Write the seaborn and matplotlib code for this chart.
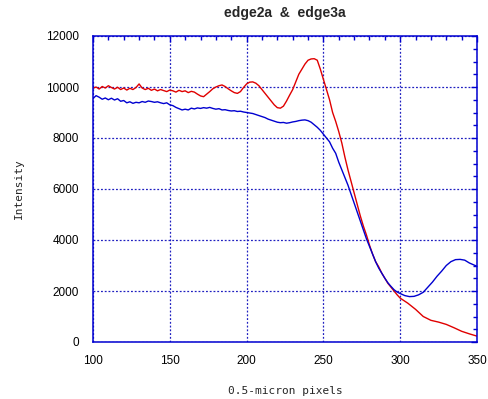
import matplotlib
matplotlib.use("Agg")
import matplotlib.pyplot as plt
from matplotlib.ticker import MultipleLocator
import seaborn as sns
import pandas as pd

# edge2a (red)
x_edge2a = [100, 102, 104, 106, 108, 110, 112, 114, 116, 118, 120, 122, 124, 126, 128,
            130, 132, 134, 136, 138, 140, 142, 144, 146, 148, 150, 152, 154, 156, 158,
            160, 162, 164, 166, 168, 170, 172, 174, 176, 178, 180, 182, 184, 186, 188,
            190, 192, 194, 196, 198, 200, 202, 204, 206, 208, 210, 212, 214, 216, 218,
            220, 222, 224, 226, 228, 230, 232, 234, 236, 238, 240, 242, 244, 246, 248,
            250, 252, 254, 256, 258, 260, 262, 264, 266, 268, 270, 272, 274, 276, 278,
            280, 282, 284, 286, 288, 290, 292, 294, 296, 298, 300, 305, 310, 315, 320,
            325, 330, 335, 340, 345, 350]
y_edge2a = [9950, 10000, 9920, 10020, 9960, 10050, 9980, 9920, 9990, 9900, 9960, 9880, 9950, 9900, 9980,
            10120, 9960, 9900, 9950, 9870, 9920, 9850, 9900, 9860, 9820, 9880, 9850, 9800, 9870, 9820,
            9850, 9780, 9830, 9800, 9720, 9650, 9620, 9720, 9820, 9930, 10000, 10050, 10080, 10020, 9930,
            9850, 9780, 9750, 9820, 9980, 10120, 10190, 10200, 10150, 10050, 9900, 9750, 9600, 9450, 9300,
            9190, 9170, 9250, 9450, 9680, 9900, 10200, 10500, 10700, 10900, 11050, 11100, 11110, 11050, 10700,
            10300, 9900, 9500, 9000, 8650, 8250, 7800, 7250, 6750, 6300, 5850, 5400, 4950, 4550, 4200,
            3800, 3450, 3150, 2950, 2700, 2500, 2300, 2150, 2000, 1850, 1720, 1520, 1280, 1000, 850,
            780, 690, 560, 420, 320, 230]

# edge3a (blue)
x_edge3a = [100, 102, 104, 106, 108, 110, 112, 114, 116, 118, 120, 122, 124, 126, 128,
            130, 132, 134, 136, 138, 140, 142, 144, 146, 148, 150, 152, 154, 156, 158,
            160, 162, 164, 166, 168, 170, 172, 174, 176, 178, 180, 182, 184, 186, 188,
            190, 192, 194, 196, 198, 200, 202, 204, 206, 208, 210, 212, 214, 216, 218,
            220, 222, 224, 226, 228, 230, 232, 234, 236, 238, 240, 242, 244, 246, 248,
            250, 252, 254, 256, 258, 260, 262, 264, 266, 268, 270, 272, 274, 276, 278,
            280, 282, 284, 286, 288, 290, 292, 294, 296, 298, 300, 303, 306, 309, 312,
            315, 318, 321, 324, 327, 330, 333, 336, 339, 342, 345, 348, 350]
y_edge3a = [9550, 9660, 9600, 9520, 9570, 9500, 9560, 9490, 9540, 9440, 9470, 9380, 9420, 9360, 9400,
            9380, 9430, 9400, 9450, 9430, 9400, 9420, 9380, 9350, 9380, 9300, 9270, 9200, 9150, 9100,
            9130, 9100, 9170, 9140, 9180, 9160, 9190, 9170, 9200, 9160, 9130, 9150, 9100, 9110, 9080,
            9060, 9070, 9040, 9050, 9020, 9000, 8980, 8960, 8920, 8880, 8840, 8800, 8740, 8700, 8660,
            8620, 8600, 8610, 8580, 8600, 8630, 8650, 8680, 8700, 8710, 8680, 8620, 8520, 8420, 8300,
            8150, 8000, 7850, 7600, 7400, 7050, 6750, 6450, 6150, 5800, 5450, 5100, 4750, 4400, 4050,
            3750, 3450, 3150, 2900, 2700, 2500, 2320, 2180, 2050, 1960, 1900, 1820, 1780, 1790, 1850,
            1950, 2150, 2350, 2580, 2780, 3000, 3150, 3230, 3240, 3210, 3100, 3020, 2970]

series_names = ["edge2a", "edge3a"]
series_colors = ["#e00000", "#0000d0"]
title_text = "edge2a  &  edge3a"
x_label = "0.5-micron pixels"
y_label = "Intensity"

df = pd.concat([
    pd.DataFrame({"x": x_edge2a, "y": y_edge2a, "series": series_names[0]}),
    pd.DataFrame({"x": x_edge3a, "y": y_edge3a, "series": series_names[1]}),
], ignore_index=True)

sns.set_style("white")
plt.rcParams["font.family"] = ["Liberation Sans", "DejaVu Sans"]

fig = plt.figure(figsize=(4.88, 3.99), dpi=100)
ax = fig.add_axes([93 / 488, 1 - 342 / 399, 384 / 488, 306 / 399])

sns.lineplot(data=df, x="x", y="y", hue="series", palette=series_colors,
             estimator=None, sort=False, legend=False, linewidth=1.0, ax=ax)

ax.set_xlim(100, 350)
ax.set_ylim(0, 12000)
ax.xaxis.set_major_locator(MultipleLocator(50))
ax.xaxis.set_minor_locator(MultipleLocator(10))
ax.yaxis.set_major_locator(MultipleLocator(2000))
ax.yaxis.set_minor_locator(MultipleLocator(500))

frame_col = "#0000d0"
for sp in ax.spines.values():
    sp.set_color(frame_col)
    sp.set_linewidth(1.1)
    sp.set_visible(True)

ax.tick_params(which="both", direction="in", top=True, right=True, colors=frame_col,
               labelcolor="black", labelsize=8.5)
ax.tick_params(which="major", length=4, width=1)
ax.tick_params(which="minor", length=3, width=1)
ax.tick_params(axis="x", which="both", pad=9)
ax.tick_params(axis="y", which="both", pad=10)
ax.grid(True, which="major", color="#2020c0", linestyle=(0, (1.5, 1.5)), linewidth=0.9)

ax.set_title(title_text, fontsize=10, fontweight="bold", pad=14)
ax.set_xlabel(x_label, fontfamily="DejaVu Sans Mono", fontsize=8, labelpad=14)
ax.set_ylabel(y_label, fontfamily="DejaVu Sans Mono", fontsize=8, labelpad=16)

fig.savefig("out.png", dpi=100)
